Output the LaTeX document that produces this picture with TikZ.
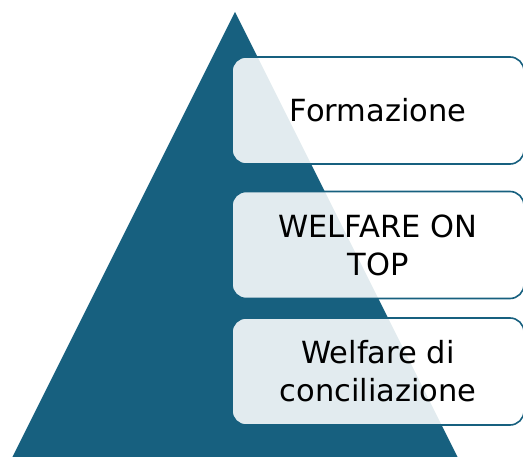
\documentclass[tikz,border=0pt]{standalone}
\usepackage{fontspec}
\setmainfont{DejaVu Sans}
\definecolor{teal1}{HTML}{17607F}
\begin{document}
\begin{tikzpicture}[x=1pt,y=-1pt,
  levelbox/.style={draw=teal1, line width=1.6pt, fill=white, fill opacity=0.88, text opacity=1,
    rounded corners=14pt, minimum width=292pt, minimum height=107pt, inner sep=0pt,
    align=center, font=\fontsize{30.5}{38}\selectfont, text=black}]
\useasboundingbox (0,0) rectangle (523,457);
\clip (0,0) rectangle (523,457);
\fill[teal1] (235,12) coordinate (apex) -- (5,472) -- (465,472) -- cycle;
\node[levelbox] (b1) at (378,110.5) {Formazione};
\node[levelbox] (b2) at (378,245) {WELFARE ON\\TOP};
\node[levelbox] (b3) at (378,371.5) {Welfare di\\conciliazione};
\end{tikzpicture}
\end{document}
